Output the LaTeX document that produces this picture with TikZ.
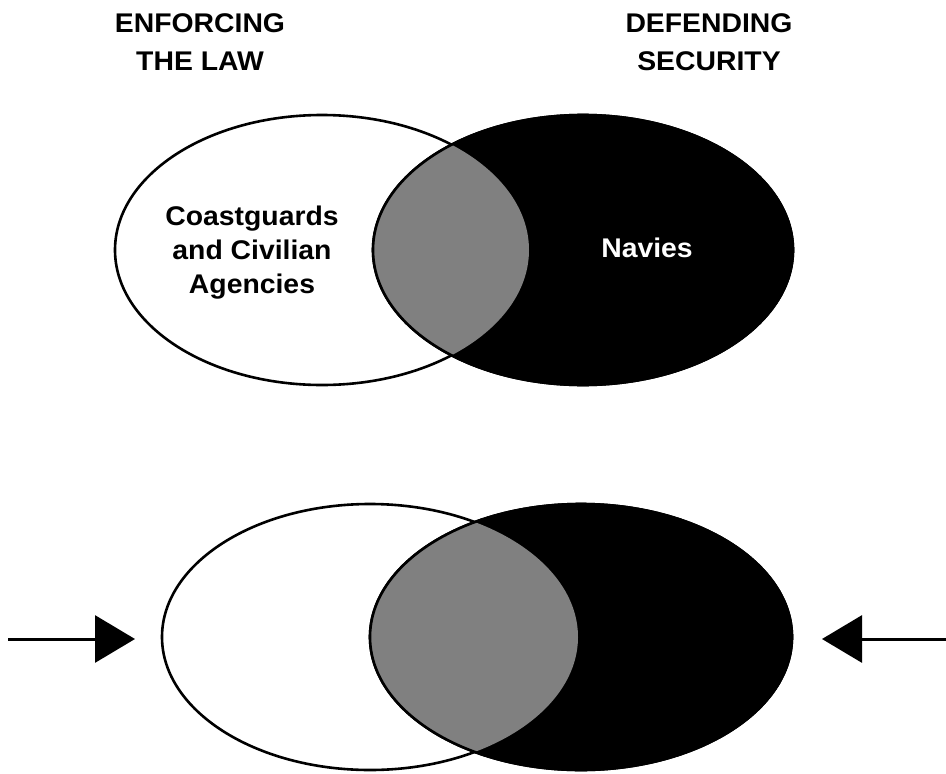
\documentclass[tikz,border=0pt]{standalone}
\usepackage{fontspec}
\setmainfont{Liberation Sans}[FakeStretch=1.05]
\usetikzlibrary{arrows.meta}
\definecolor{halftone}{gray}{0.5}

\begin{document}
\begin{tikzpicture}[x=1pt,y=-1pt,
    outline/.style={line width=2.6pt},
    heading/.style={font=\fontsize{27}{38}\selectfont\bfseries, align=center, inner sep=0pt},
    venntext/.style={font=\fontsize{27}{34}\selectfont\bfseries, align=center, inner sep=0pt},
    pointer/.style={line width=3pt, -{Triangle[length=40pt,width=47pt]}}]
    \useasboundingbox (0,0) rectangle (946,774);

    \coordinate (LT) at (322,250);
    \coordinate (RT) at (583,250);
    \coordinate (LB) at (370,637);
    \coordinate (RB) at (581,637);

    % top pair
    \draw[outline] (LT) ellipse [x radius=207pt, y radius=135pt];
    \filldraw[outline] (RT) ellipse [x radius=210pt, y radius=135pt];
    \begin{scope}
        \clip (LT) ellipse [x radius=207pt, y radius=135pt];
        \fill[halftone] (RT) ellipse [x radius=210pt, y radius=135pt];
    \end{scope}
    \draw[outline] (RT) ellipse [x radius=210pt, y radius=135pt];

    % bottom pair
    \draw[outline] (LB) ellipse [x radius=208pt, y radius=133pt];
    \filldraw[outline] (RB) ellipse [x radius=211pt, y radius=133pt];
    \begin{scope}
        \clip (LB) ellipse [x radius=208pt, y radius=133pt];
        \fill[halftone] (RB) ellipse [x radius=211pt, y radius=133pt];
    \end{scope}
    \draw[outline] (RB) ellipse [x radius=211pt, y radius=133pt];

    \node[heading, anchor=base] (enforce) at (200,70) {ENFORCING\\THE LAW};
    \node[heading, anchor=base] (defend) at (709,70) {DEFENDING\\SECURITY};
    \node[venntext, anchor=base] (civil) at (252,293) {Coastguards\\and Civilian\\Agencies};
    \node[venntext, anchor=base, white] (navy) at (647,257) {Navies};

    % arrows pressing from both sides
    \coordinate (Lstart) at (8,639);
    \coordinate (Ltip) at (135,639);
    \coordinate (Rstart) at (946,639);
    \coordinate (Rtip) at (822,639);
    \draw[pointer] (Lstart) -- (Ltip);
    \draw[pointer] (Rstart) -- (Rtip);
\end{tikzpicture}
\end{document}
